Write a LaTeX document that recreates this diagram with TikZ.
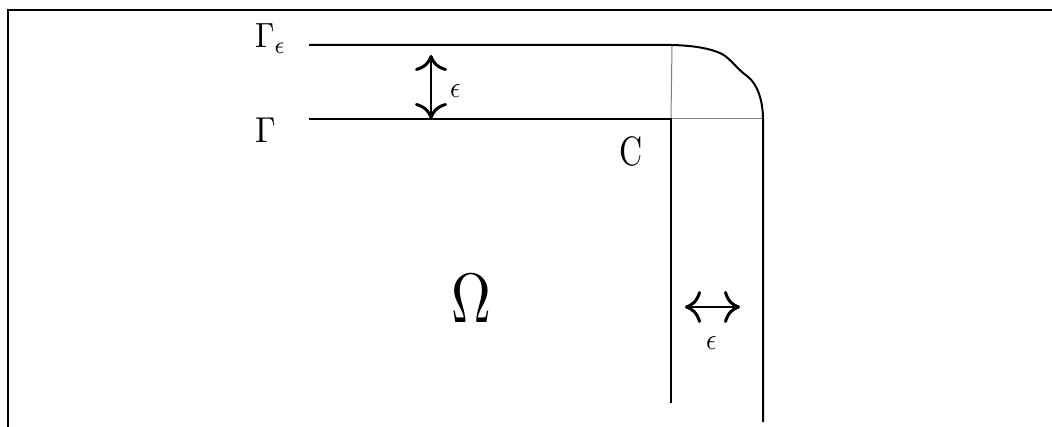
\documentclass[tikz,border=0pt]{standalone}
\usepackage{graphicx}
\usetikzlibrary{arrows.meta}
\begin{document}
\begin{tikzpicture}[x=1pt,y=-1pt,
  mainline/.style={line width=2pt,line cap=butt},
  thinline/.style={line width=1pt,gray},
  framestyle/.style={line width=2.6pt},
  dimarrow/.style={line width=2.2pt,{Computer Modern Rightarrow[length=16pt,width=32pt,line width=3pt]}-{Computer Modern Rightarrow[length=16pt,width=32pt,line width=3pt]}},
  lbl/.style={inner sep=0pt,outer sep=0pt,anchor=base west}]
\useasboundingbox (0,0) rectangle (1052,427);
% frame
\coordinate (fb) at (8,427);
\coordinate (fc) at (8,10);
\coordinate (fr) at (1052,10);
\draw[framestyle] (fb) -- (fc) -- (fr);
% boundary lines
\coordinate (ge0) at (309,45);
\coordinate (ge1) at (672,45);
\coordinate (g0) at (309,119);
\coordinate (g1) at (671,119);
\coordinate (c1) at (671,403);
\coordinate (r0) at (763,119);
\coordinate (r1) at (763,422);
\draw[thinline] (ge1) -- (g1);
\draw[thinline] (g1) -- (r0);
\draw[mainline] (g0) -- (g1) -- (c1);
\draw[mainline] (ge0) -- (ge1)
  .. controls (695,45.5) and (712,49) .. (722,54)
  .. controls (731,59) and (737,69) .. (747,76)
  .. controls (758,84) and (763,102) .. (r0) -- (r1);
% arrows
\coordinate (va0) at (431,55);
\coordinate (va1) at (431,119);
\draw[dimarrow] (va0) -- (va1);
\coordinate (ha0) at (685,307);
\coordinate (ha1) at (740,307);
\draw[dimarrow] (ha0) -- (ha1);
% labels
\node[lbl] (lge) at (255,48) {\scalebox{3.1}[3.5]{$\Gamma_{\epsilon}$}};
\node[lbl] (lg) at (255,143) {\scalebox{3.3}[3.6]{$\Gamma$}};
\node[lbl] (lc) at (619,166) {\scalebox{3.2}[4.1]{C}};
\node[lbl] (lo) at (451,323) {\scalebox{5.5}[7.0]{$\Omega$}};
\node[lbl] (le1) at (450,98) {\scalebox{2.6}[3.0]{$\epsilon$}};
\node[lbl] (le2) at (706,350) {\scalebox{2.6}[3.0]{$\epsilon$}};
\end{tikzpicture}
\end{document}
